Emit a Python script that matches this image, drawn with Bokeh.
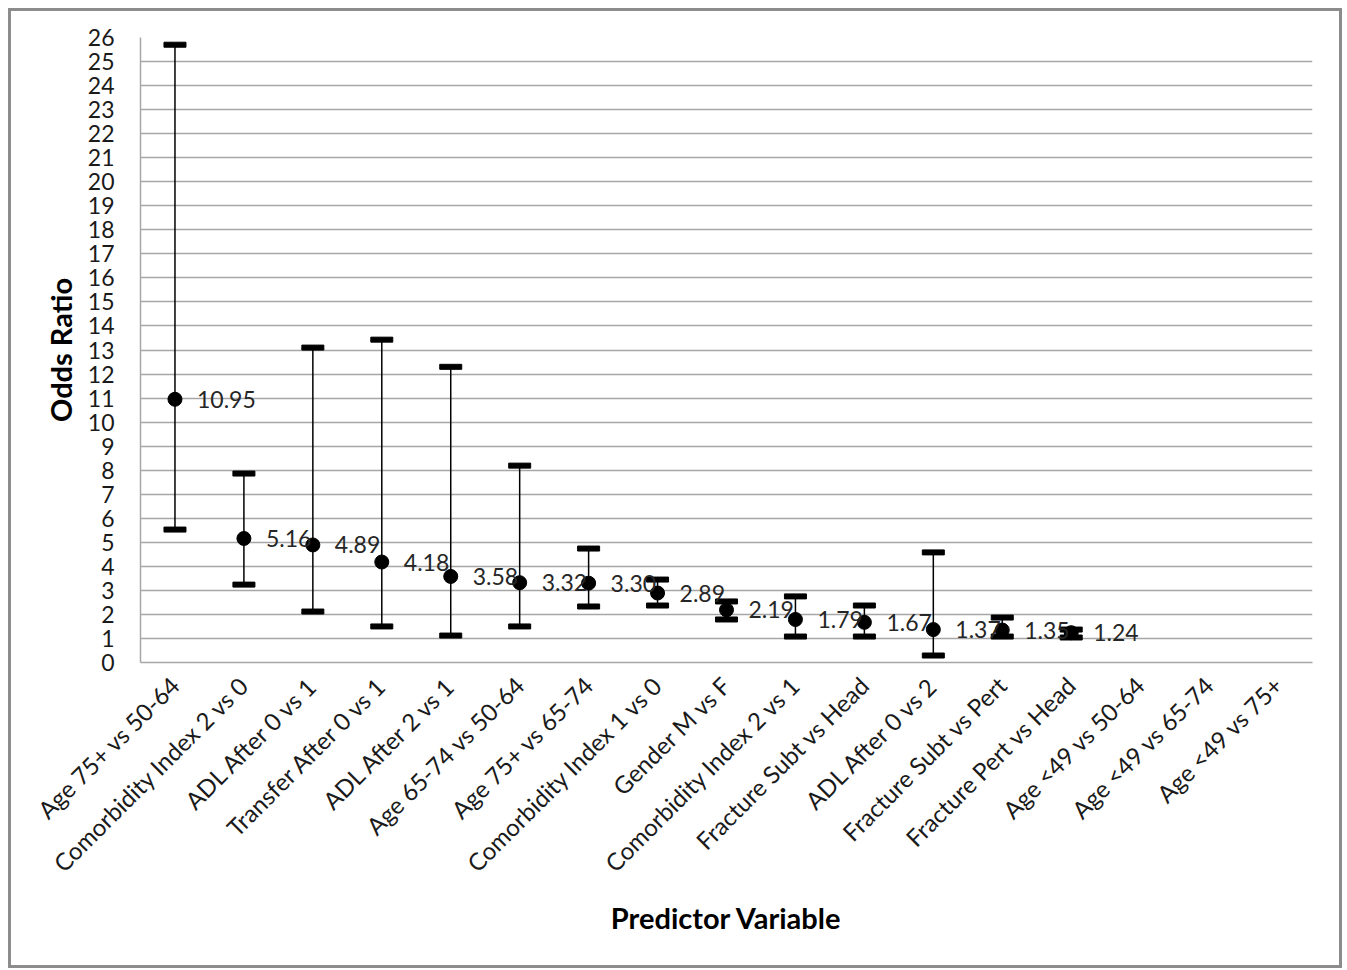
from bokeh.plotting import figure
from bokeh.models import ColumnDataSource, FixedTicker, Range1d
from bokeh.core.properties import value
from bokeh.embed import file_html
from bokeh.resources import INLINE
import math

categories = ["Age 75+ vs 50-64", "Comorbidity Index 2 vs 0", "ADL After 0 vs 1",
              "Transfer After 0 vs 1", "ADL After 2 vs 1", "Age 65-74 vs 50-64",
              "Age 75+ vs 65-74", "Comorbidity Index 1 vs 0", "Gender M vs F",
              "Comorbidity Index 2 vs 1", "Fracture Subt vs Head", "ADL After 0 vs 2",
              "Fracture Subt vs Pert", "Fracture Pert vs Head", "Age <49 vs 50-64",
              "Age <49 vs 65-74", "Age <49 vs 75+"]
data_categories = categories[:14]
odds_ratio = [10.95, 5.16, 4.89, 4.18, 3.58, 3.32, 3.30, 2.89, 2.19, 1.79, 1.67, 1.37, 1.35, 1.24]
upper_ci = [25.7, 7.86, 13.1, 13.43, 12.3, 8.19, 4.74, 3.45, 2.54, 2.75, 2.37, 4.58, 1.87, 1.37]
lower_ci = [5.53, 3.24, 2.12, 1.50, 1.12, 1.50, 2.33, 2.37, 1.79, 1.08, 1.08, 0.29, 1.08, 1.04]
y_ticks = list(range(0, 27))

src = ColumnDataSource(dict(x=data_categories, y=odds_ratio, up=upper_ci, lo=lower_ci,
                            lab=["%.2f" % v for v in odds_ratio]))

p = figure(x_range=categories, y_range=Range1d(0, 26), width=1334, height=960,
           output_backend="svg", toolbar_location=None,
           min_border_left=129, min_border_right=33, min_border_top=26, min_border_bottom=309)
p.styles = {"border": "3px solid #8c8c8c", "box-sizing": "border-box",
            "margin-left": "8px", "margin-top": "8px"}
p.outline_line_color = None
p.background_fill_color = "white"

p.segment(x0="x", y0="lo", x1="x", y1="up", source=src, line_color="black", line_width=1.5)
p.rect(x="x", y="up", width=22, height=5, width_units="screen", height_units="screen",
       source=src, fill_color="black", line_color="black")
p.rect(x="x", y="lo", width=22, height=5, width_units="screen", height_units="screen",
       source=src, fill_color="black", line_color="black")
p.scatter(x="x", y="y", size=14, source=src, fill_color="black", line_color="black")
p.text(x="x", y="y", text="lab", source=src, x_offset=22, text_baseline="middle",
       text_font=value("Lato"), text_font_size="23px", text_color="#262626")

p.yaxis.ticker = FixedTicker(ticks=y_ticks)
p.ygrid.ticker = FixedTicker(ticks=y_ticks)
p.ygrid.grid_line_color = "#a6a6a6"
p.ygrid.grid_line_width = 1.5
p.xgrid.grid_line_color = None

for ax in (p.xaxis, p.yaxis):
    ax.major_tick_line_color = None
    ax.minor_tick_line_color = None
    ax.axis_line_color = "#a6a6a6"
    ax.axis_line_width = 1.5
    ax.major_label_text_font = "Lato"
    ax.major_label_text_color = "#1a1a1a"
    ax.axis_label_text_font = "Lato"
    ax.axis_label_text_font_style = "bold"
    ax.axis_label_text_color = "black"
    ax.axis_label_text_font_size = "29px"

p.yaxis.major_label_text_font_size = "23px"
p.yaxis.major_label_standoff = 20
p.yaxis.axis_label = "Odds Ratio"
p.yaxis.axis_label_standoff = 7

p.xaxis.major_label_text_font_size = "24px"
p.xaxis.major_label_orientation = math.pi / 4
p.xaxis.major_label_standoff = 12
p.xaxis.axis_label = "Predictor Variable"
p.xaxis.axis_label_standoff = 10

open("out.html", "w").write(file_html(p, INLINE))
